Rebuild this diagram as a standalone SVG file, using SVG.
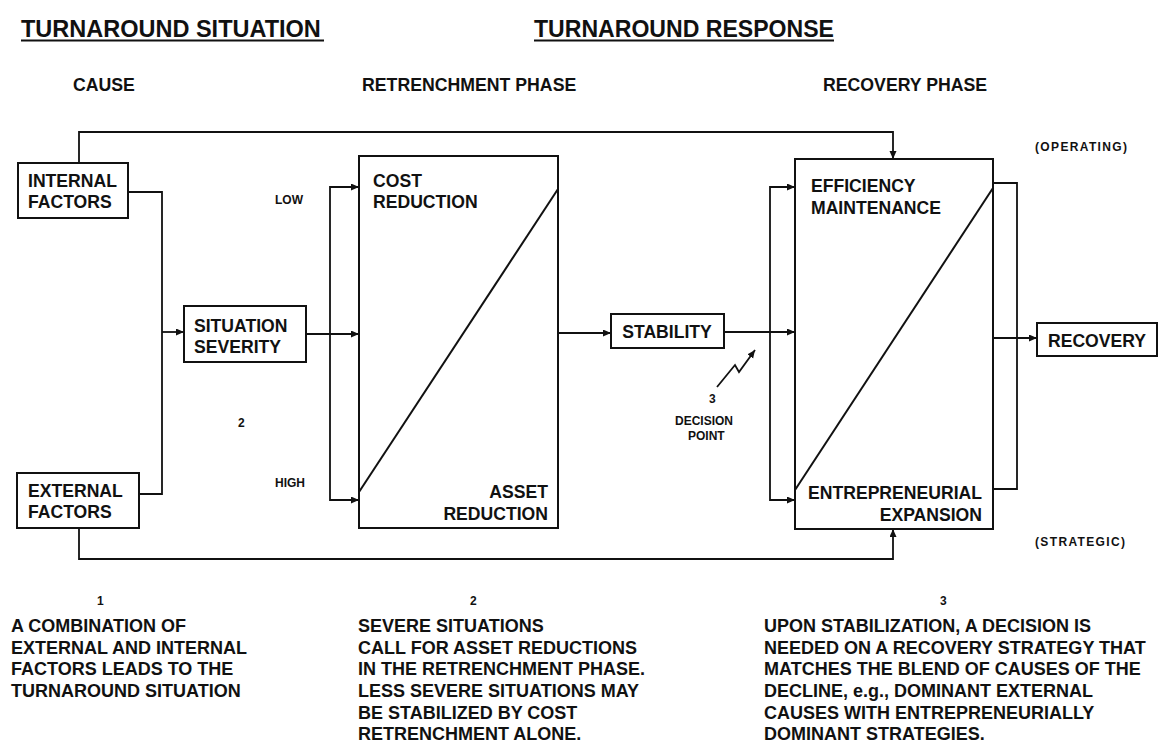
<svg xmlns="http://www.w3.org/2000/svg" width="1165" height="742" viewBox="0 0 1165 742">
<style>
text{font-family:"Liberation Sans",Arial,sans-serif;font-weight:bold;fill:#111}
.h{font-size:23.5px}
.ph{font-size:17.7px}
.n{font-size:17.6px}
.s{font-size:12px}
.b{font-size:18px}
.box{fill:#fff;stroke:#111;stroke-width:2}
.ln{fill:none;stroke:#111;stroke-width:1.8}
.ar{fill:none;stroke:#111;stroke-width:1.8;marker-end:url(#ah)}
</style>
<defs>
<marker id="ah" markerUnits="userSpaceOnUse" markerWidth="10" markerHeight="8" refX="8" refY="3.5" orient="auto">
<path d="M0,0 L8,3.5 L0,7 z" fill="#111"/>
</marker>
</defs>
<rect width="1165" height="742" fill="#fff"/>

<g id="headings">
<text class="h" x="21" y="37">TURNAROUND SITUATION</text>
<line x1="21" y1="40.5" x2="324" y2="40.5" stroke="#111" stroke-width="2"/>
<text class="h" x="534" y="37" textLength="300" lengthAdjust="spacingAndGlyphs">TURNAROUND RESPONSE</text>
<line x1="534" y1="40.5" x2="834" y2="40.5" stroke="#111" stroke-width="2"/>
<text class="ph" x="73" y="91">CAUSE</text>
<text class="ph" x="362" y="91">RETRENCHMENT PHASE</text>
<text class="ph" x="823" y="91">RECOVERY PHASE</text>
</g>

<g id="connectors">
<path class="ar" d="M79,163 V132 H893 V159"/>
<path class="ln" d="M128,192 H162 V494 H139"/>
<path class="ar" d="M162,332 H184"/>
<path class="ar" d="M306,334 H359"/>
<path class="ln" d="M359,187 H330 V500 H359"/>
<path class="ar" d="M330,187 H359"/>
<path class="ar" d="M330,500 H359"/>
<path class="ar" d="M79,528 V559 H893 V529"/>
<path class="ar" d="M558,333 H611"/>
<path class="ar" d="M724,332 H795"/>
<path class="ln" d="M795,187 H770 V500 H795"/>
<path class="ar" d="M770,187 H795"/>
<path class="ar" d="M770,500 H795"/>
<path class="ln" d="M993,183 H1017 V489 H993"/>
<path class="ar" d="M993,338 H1037"/>
<polyline class="ar" points="717,387 735,365 739,372 755,350"/>
</g>

<g id="internal-factors">
<rect class="box" x="18" y="163" width="110" height="55"/>
<text class="n" x="28" y="187">INTERNAL</text>
<text class="n" x="28" y="208">FACTORS</text>
</g>

<g id="external-factors">
<rect class="box" x="17" y="473" width="122" height="55"/>
<text class="n" x="28" y="497">EXTERNAL</text>
<text class="n" x="28" y="518">FACTORS</text>
</g>

<g id="situation-severity">
<rect class="box" x="184" y="306" width="122" height="56"/>
<text class="n" x="194" y="332">SITUATION</text>
<text class="n" x="194" y="353">SEVERITY</text>
</g>

<g id="retrenchment">
<rect class="box" x="359" y="156" width="199" height="372" fill="none"/>
<line x1="359" y1="492" x2="558" y2="189" stroke="#111" stroke-width="2"/>
<text class="n" x="373" y="187">COST</text>
<text class="n" x="373" y="208">REDUCTION</text>
<text class="n" x="548" y="498" text-anchor="end">ASSET</text>
<text class="n" x="548" y="520" text-anchor="end">REDUCTION</text>
</g>

<g id="stability">
<rect class="box" x="611" y="314" width="113" height="34"/>
<text class="n" x="667" y="338" text-anchor="middle">STABILITY</text>
</g>

<g id="recovery-phase">
<rect class="box" x="795" y="159" width="198" height="370"/>
<line x1="795" y1="490" x2="993" y2="188" stroke="#111" stroke-width="2"/>
<text class="n" x="811" y="192">EFFICIENCY</text>
<text class="n" x="811" y="214">MAINTENANCE</text>
<text class="n" x="982" y="499" text-anchor="end">ENTREPRENEURIAL</text>
<text class="n" x="982" y="521" text-anchor="end">EXPANSION</text>
</g>

<g id="recovery">
<rect class="box" x="1037" y="323" width="120" height="33"/>
<text class="n" x="1097" y="347" text-anchor="middle">RECOVERY</text>
</g>

<g id="labels">
<text class="s" x="275" y="204">LOW</text>
<text class="s" x="275" y="487">HIGH</text>
<text class="s" x="238" y="427">2</text>
<text class="s" x="1035" y="151" textLength="92">(OPERATING)</text>
<text class="s" x="1035" y="546" textLength="90">(STRATEGIC)</text>
<text class="s" x="709" y="403">3</text>
<text class="s" x="675" y="425">DECISION</text>
<text class="s" x="688" y="440">POINT</text>
</g>

<g id="notes">
<text class="s" x="97" y="605">1</text>
<text class="b" x="11" y="632">A COMBINATION OF</text>
<text class="b" x="11" y="654">EXTERNAL AND INTERNAL</text>
<text class="b" x="11" y="675">FACTORS LEADS TO THE</text>
<text class="b" x="11" y="697">TURNAROUND SITUATION</text>
<text class="s" x="470" y="605">2</text>
<text class="b" x="358" y="632">SEVERE SITUATIONS</text>
<text class="b" x="358" y="654">CALL FOR ASSET REDUCTIONS</text>
<text class="b" x="358" y="675">IN THE RETRENCHMENT PHASE.</text>
<text class="b" x="358" y="697">LESS SEVERE SITUATIONS MAY</text>
<text class="b" x="358" y="719">BE STABILIZED BY COST</text>
<text class="b" x="358" y="740">RETRENCHMENT ALONE.</text>
<text class="s" x="940" y="605">3</text>
<text class="b" x="764" y="632">UPON STABILIZATION, A DECISION IS</text>
<text class="b" x="764" y="654">NEEDED ON A RECOVERY STRATEGY THAT</text>
<text class="b" x="764" y="675">MATCHES THE BLEND OF CAUSES OF THE</text>
<text class="b" x="764" y="697">DECLINE, e.g., DOMINANT EXTERNAL</text>
<text class="b" x="764" y="719">CAUSES WITH ENTREPRENEURIALLY</text>
<text class="b" x="764" y="740">DOMINANT STRATEGIES.</text>
</g>
</svg>
